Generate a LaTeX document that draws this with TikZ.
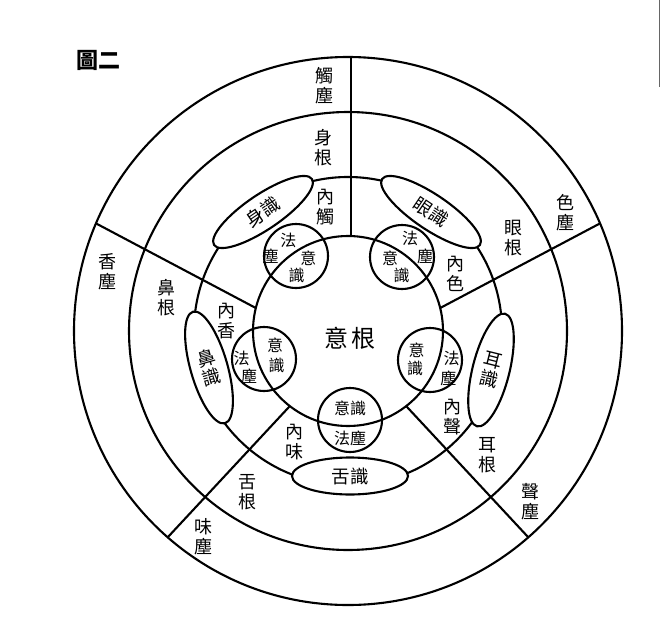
\documentclass[tikz,border=0pt]{standalone}
\usepackage{fontspec}
\newfontfamily\cjk{Noto Sans CJK TC}
\usetikzlibrary{shapes.geometric}
\begin{document}
\begin{tikzpicture}[x=1pt,y=-1pt,
  ring/.style={line width=2.1pt},
  sepline/.style={line width=2.1pt},
  shi/.style={draw, ellipse, line width=2.1pt, fill=white, inner sep=0pt,
    align=center, font=\cjk\fontsize{18.5}{20}\selectfont},
  dotc/.style={draw, circle, line width=2.1pt, minimum size=64pt, inner sep=0pt},
  lab/.style={font=\cjk\fontsize{18}{20}\selectfont, align=center, inner sep=0pt},
  sm/.style={font=\cjk\fontsize{16}{17}\selectfont, inner sep=0pt},
]
\useasboundingbox (0,0) rectangle (660,623);
% page edge
\draw[black!60, line width=1pt] (659,0) -- (659,87);
% title
\node[font=\cjk\bfseries\fontsize{22}{24}\selectfont, inner sep=0pt] (fig) at (98.5,60) {圖二};

% rings
\coordinate (C) at (348,331);
\draw[ring] (C) circle[radius=274pt];
\draw[ring] (C) circle[radius=219pt];
\draw[ring] (C) circle[radius=154pt];
\draw[ring] (C) circle[radius=95pt];

% separating lines
\coordinate (t1) at (351,236);   \coordinate (t2) at (351,57);
\coordinate (ur1) at (440.2,308); \coordinate (ur2) at (600,223.4);
\coordinate (ul1) at (255.8,308); \coordinate (ul2) at (96,223.4);
\coordinate (br1) at (406.2,406.1); \coordinate (br2) at (528.3,537.3);
\coordinate (bl1) at (289.8,406.1); \coordinate (bl2) at (167.7,537.3);
\draw[sepline] (t1) -- (t2);
\draw[sepline] (ur1) -- (ur2);
\draw[sepline] (ul1) -- (ul2);
\draw[sepline] (br1) -- (br2);
\draw[sepline] (bl1) -- (bl2);

% consciousness ellipses
\node[shi, minimum width=118pt, minimum height=35pt, rotate=34] (shenshi) at (263,212) {身識};
\node[shi, minimum width=118pt, minimum height=35pt, rotate=-34] (yanshi) at (431,212) {眼識};
\node[shi, minimum width=37pt, minimum height=116pt, rotate=16] (bishi) at (209,367.5) {鼻\\識};
\node[shi, minimum width=37pt, minimum height=116pt, rotate=-14] (ershi) at (491,370) {耳\\識};
\node[shi, minimum width=116pt, minimum height=37pt] (sheshi) at (350,476) {舌識};

% mind-consciousness circles
\node[dotc] (ctl) at (296,256) {};
\node[dotc] (ctr) at (402,257) {};
\node[dotc] (cl) at (264,359) {};
\node[dotc] (cr) at (430,360) {};
\node[dotc] (cb) at (350,420) {};

% centre
\node[font=\cjk\fontsize{24}{26}\selectfont, inner sep=0pt] (yigen) at (350,338) {意\hspace{3pt}根};

% outer ring labels
\node[lab] (chuchen) at (324,85.5) {觸\\塵};
\node[lab] (sechen) at (565,213) {色\\塵};
\node[lab] (xiangchen) at (107,272) {香\\塵};
\node[lab] (shengchen) at (530,502) {聲\\塵};
\node[lab] (weichen) at (203,537) {味\\塵};

% middle ring labels
\node[lab] (shengen) at (323,147.5) {身\\根};
\node[lab] (yangen) at (513,238) {眼\\根};
\node[lab] (bigen) at (166,298) {鼻\\根};
\node[lab] (ergen) at (487,455) {耳\\根};
\node[lab] (shegen) at (247,492) {舌\\根};

% inner ring labels
\node[lab] (neichu) at (325,207) {內\\觸};
\node[lab] (neise) at (455,273.5) {內\\色};
\node[lab] (neixiang) at (226,321) {內\\香};
\node[lab] (neisheng) at (452,417.5) {內\\聲};
\node[lab] (neiwei) at (294,442.5) {內\\味};

% small circle texts
\node[sm] (tlfa) at (288.3,240) {法};
\node[sm] (tlchen) at (270.7,256.7) {塵};
\node[sm] (tlyi) at (308.3,258.3) {意};
\node[sm] (tlshi) at (296.7,275) {識};

\node[sm] (trfa) at (410,238.3) {法};
\node[sm] (trchen) at (425,256.7) {塵};
\node[sm] (tryi) at (390,258.3) {意};
\node[sm] (trshi) at (401.7,275) {識};

\node[sm] (lyi) at (275,345) {意};
\node[sm] (lshi) at (276.7,365) {識};
\node[sm] (lfa) at (241.7,358.3) {法};
\node[sm] (lchen) at (249,376.7) {塵};

\node[sm] (ryi) at (416.7,350) {意};
\node[sm] (rshi) at (415,368.3) {識};
\node[sm] (rfa) at (451.7,358.3) {法};
\node[sm] (rchen) at (448.3,378.3) {塵};

\node[sm] (byishi) at (350,408.3) {意識};
\node[sm] (bfachen) at (350,438.3) {法塵};
\end{tikzpicture}
\end{document}
